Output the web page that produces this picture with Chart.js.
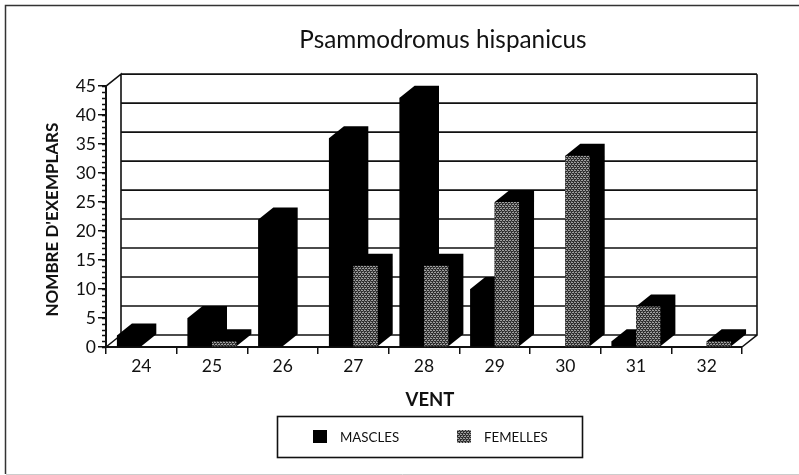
<!DOCTYPE html>
<html>
<head>
<meta charset="utf-8">
<script src="https://cdn.jsdelivr.net/npm/chart.js@4"></script>
<style>html,body{margin:0;padding:0;background:#fff}canvas{display:block}</style>
</head>
<body>
<div style="width:799px;height:475px"><canvas id="c" width="799" height="475"></canvas></div>
<script>
const categories = ['24','25','26','27','28','29','30','31','32'];
const mascles  = [2,5,22,36,43,10,0,1,0];
const femelles = [0,1,0,14,14,25,33,7,1];
const seriesNames = ['MASCLES','FEMELLES'];
const chartTitle = 'Psammodromus hispanicus';
const xTitle = 'VENT';
const yTitle = "NOMBRE D'EXEMPLARS";

const FONT = 'Lato, "Open Sans", sans-serif';
const DX = 15, DY = 12;

function stipple(){
  const t = document.createElement('canvas'); t.width = 6; t.height = 4;
  const g = t.getContext('2d');
  g.fillStyle = '#2c2c2c'; g.fillRect(0,0,6,4);
  g.fillStyle = '#a0a0a0';
  [[0,0],[2,0],[3,0],[5,0],[1,2],[2,2],[4,2],[5,2]].forEach(p=>g.fillRect(p[0],p[1],1,1));
  g.fillStyle = '#606060';
  [[1,1],[4,1],[0,3],[3,3]].forEach(p=>g.fillRect(p[0],p[1],1,1));
  return g.createPattern(t,'repeat');
}

function shiftTitle(scale, key1, key2, by){
  if(scale._shifted) return;
  scale._shifted = true;
  const orig = scale.drawTitle;
  scale.drawTitle = function(){
    const a=this[key1], b=this[key2];
    this[key1]=a+by; this[key2]=b+by;
    orig.call(this);
    this[key1]=a; this[key2]=b;
  };
}

const scene = {
  id:'scene',
  afterLayout(chart){
    if(chart.titleBlock){ chart.titleBlock.left = 87; chart.titleBlock.right = 799; }
    shiftTitle(chart.scales.x,'left','right',6);
    shiftTitle(chart.scales.y,'top','bottom',3);
  },
  beforeDatasetsDraw(chart){
    const {ctx, scales:{x,y}, chartArea:a} = chart;
    ctx.save();
    // outer frame
    ctx.strokeStyle='#333'; ctx.lineWidth=1.5;
    ctx.beginPath(); ctx.moveTo(5.5,474); ctx.lineTo(5.5,5.5); ctx.lineTo(799,5.5); ctx.stroke();
    ctx.strokeStyle='#ccc'; ctx.lineWidth=1;
    ctx.beginPath(); ctx.moveTo(6,474.5); ctx.lineTo(799,474.5); ctx.stroke();
    // back wall gridlines
    ctx.strokeStyle='#111'; ctx.lineWidth=1.6;
    ctx.beginPath();
    y.ticks.forEach(t=>{
      if(t.value%5===0){
        const p=y.getPixelForValue(t.value)-DY;
        ctx.moveTo(a.left+DX,p); ctx.lineTo(a.right+DX,p);
      }
    });
    // walls
    const top=y.getPixelForValue(y.max), bot=y.getPixelForValue(0);
    ctx.moveTo(a.left,top); ctx.lineTo(a.left+DX,top-DY); ctx.lineTo(a.left+DX,bot-DY);
    ctx.moveTo(a.left,bot); ctx.lineTo(a.left+DX,bot-DY);
    ctx.moveTo(a.right+DX,top-DY); ctx.lineTo(a.right+DX,bot-DY); ctx.lineTo(a.right,bot);
    ctx.stroke();
    // minor y ticks
    ctx.lineWidth=1.5;
    ctx.beginPath();
    y.ticks.forEach(t=>{
      const p=Math.round(y.getPixelForValue(t.value))+0.5;
      ctx.moveTo(a.left-4,p); ctx.lineTo(a.left,p);
    });
    ctx.stroke();
    ctx.restore();
  },
  beforeDatasetDraw(){ return false; },
  afterDatasetsDraw(chart){
    const ctx=chart.ctx;
    [0,1].forEach(i=>{
      chart.getDatasetMeta(i).data.forEach(bar=>{
        const p=bar.getProps(['x','y','base','width'],true);
        if(p.base-p.y<0.5) return;
        const l=p.x-p.width/2, r=p.x+p.width/2;
        ctx.save();
        ctx.fillStyle='#000';
        ctx.beginPath();
        ctx.moveTo(l,p.y); ctx.lineTo(l+DX,p.y-DY); ctx.lineTo(r+DX,p.y-DY);
        ctx.lineTo(r+DX,p.base-DY); ctx.lineTo(r,p.base); ctx.lineTo(l,p.base); ctx.closePath();
        ctx.fill();
        ctx.restore();
        bar.draw(ctx);
      });
    });
    // legend
    const cx=chart.options.plugins.boxLegend;
    ctx.save();
    ctx.strokeStyle='#111'; ctx.lineWidth=1.6;
    ctx.strokeRect(cx.left,cx.top,cx.width,cx.height);
    const ym=cx.top+cx.height/2;
    ctx.font='13.3px '+FONT; ctx.textBaseline='middle'; ctx.textAlign='left';
    cx.items.forEach((it,k)=>{
      ctx.fillStyle=chart.data.datasets[k].backgroundColor;
      ctx.fillRect(it.box,ym-7,14,13);
      ctx.fillStyle='#111';
      ctx.fillText(chart.data.datasets[k].label,it.text,ym+1);
    });
    ctx.restore();
  }
};

new Chart(document.getElementById('c'),{
  type:'bar',
  data:{labels:categories,datasets:[
    {label:seriesNames[0],data:mascles,backgroundColor:'#000',borderWidth:0},
    {label:seriesNames[1],data:femelles,backgroundColor:stipple(),borderWidth:0}
  ]},
  plugins:[scene],
  options:{
    responsive:false,animation:false,
    layout:{padding:{left:42,right:57,top:0,bottom:0}},
    datasets:{bar:{categoryPercentage:0.69,barPercentage:1}},
    plugins:{
      legend:{display:false},
      tooltip:{enabled:false},
      title:{display:true,text:chartTitle,color:'#111',font:{family:FONT,size:24.3,weight:'normal'},padding:{top:26,bottom:31}},
      boxLegend:{left:277.5,top:416.5,width:305,height:41,items:[{box:313,text:340},{box:457,text:484}]}
    },
    scales:{
      x:{
        grid:{drawOnChartArea:false,color:'#111',tickColor:'#111',tickLength:7,lineWidth:1.5},
        border:{color:'#111',width:2},
        ticks:{color:'#111',font:{family:FONT,size:17.5},padding:2,maxRotation:0},
        title:{display:true,text:xTitle,color:'#111',font:{family:FONT,size:18.5,weight:'bold'},padding:{top:0,bottom:64}},
        afterFit(s){s.height=128;}
      },
      y:{
        min:0,max:45,
        grid:{drawOnChartArea:false,tickLength:8,lineWidth:1.5,
          tickColor:c=>c.tick&&c.tick.value%5===0?'#111':'rgba(0,0,0,0)'},
        border:{color:'#111',width:2},
        ticks:{stepSize:1,autoSkip:false,color:'#111',font:{family:FONT,size:17.5},padding:2,
          callback:v=>v%5===0?String(v):''},
        title:{display:true,text:yTitle,color:'#111',font:{family:FONT,size:17,weight:'bold'},padding:{top:0,bottom:0}},
        afterFit(s){s.width=64;}
      }
    }
  }
});
</script>
</body>
</html>
